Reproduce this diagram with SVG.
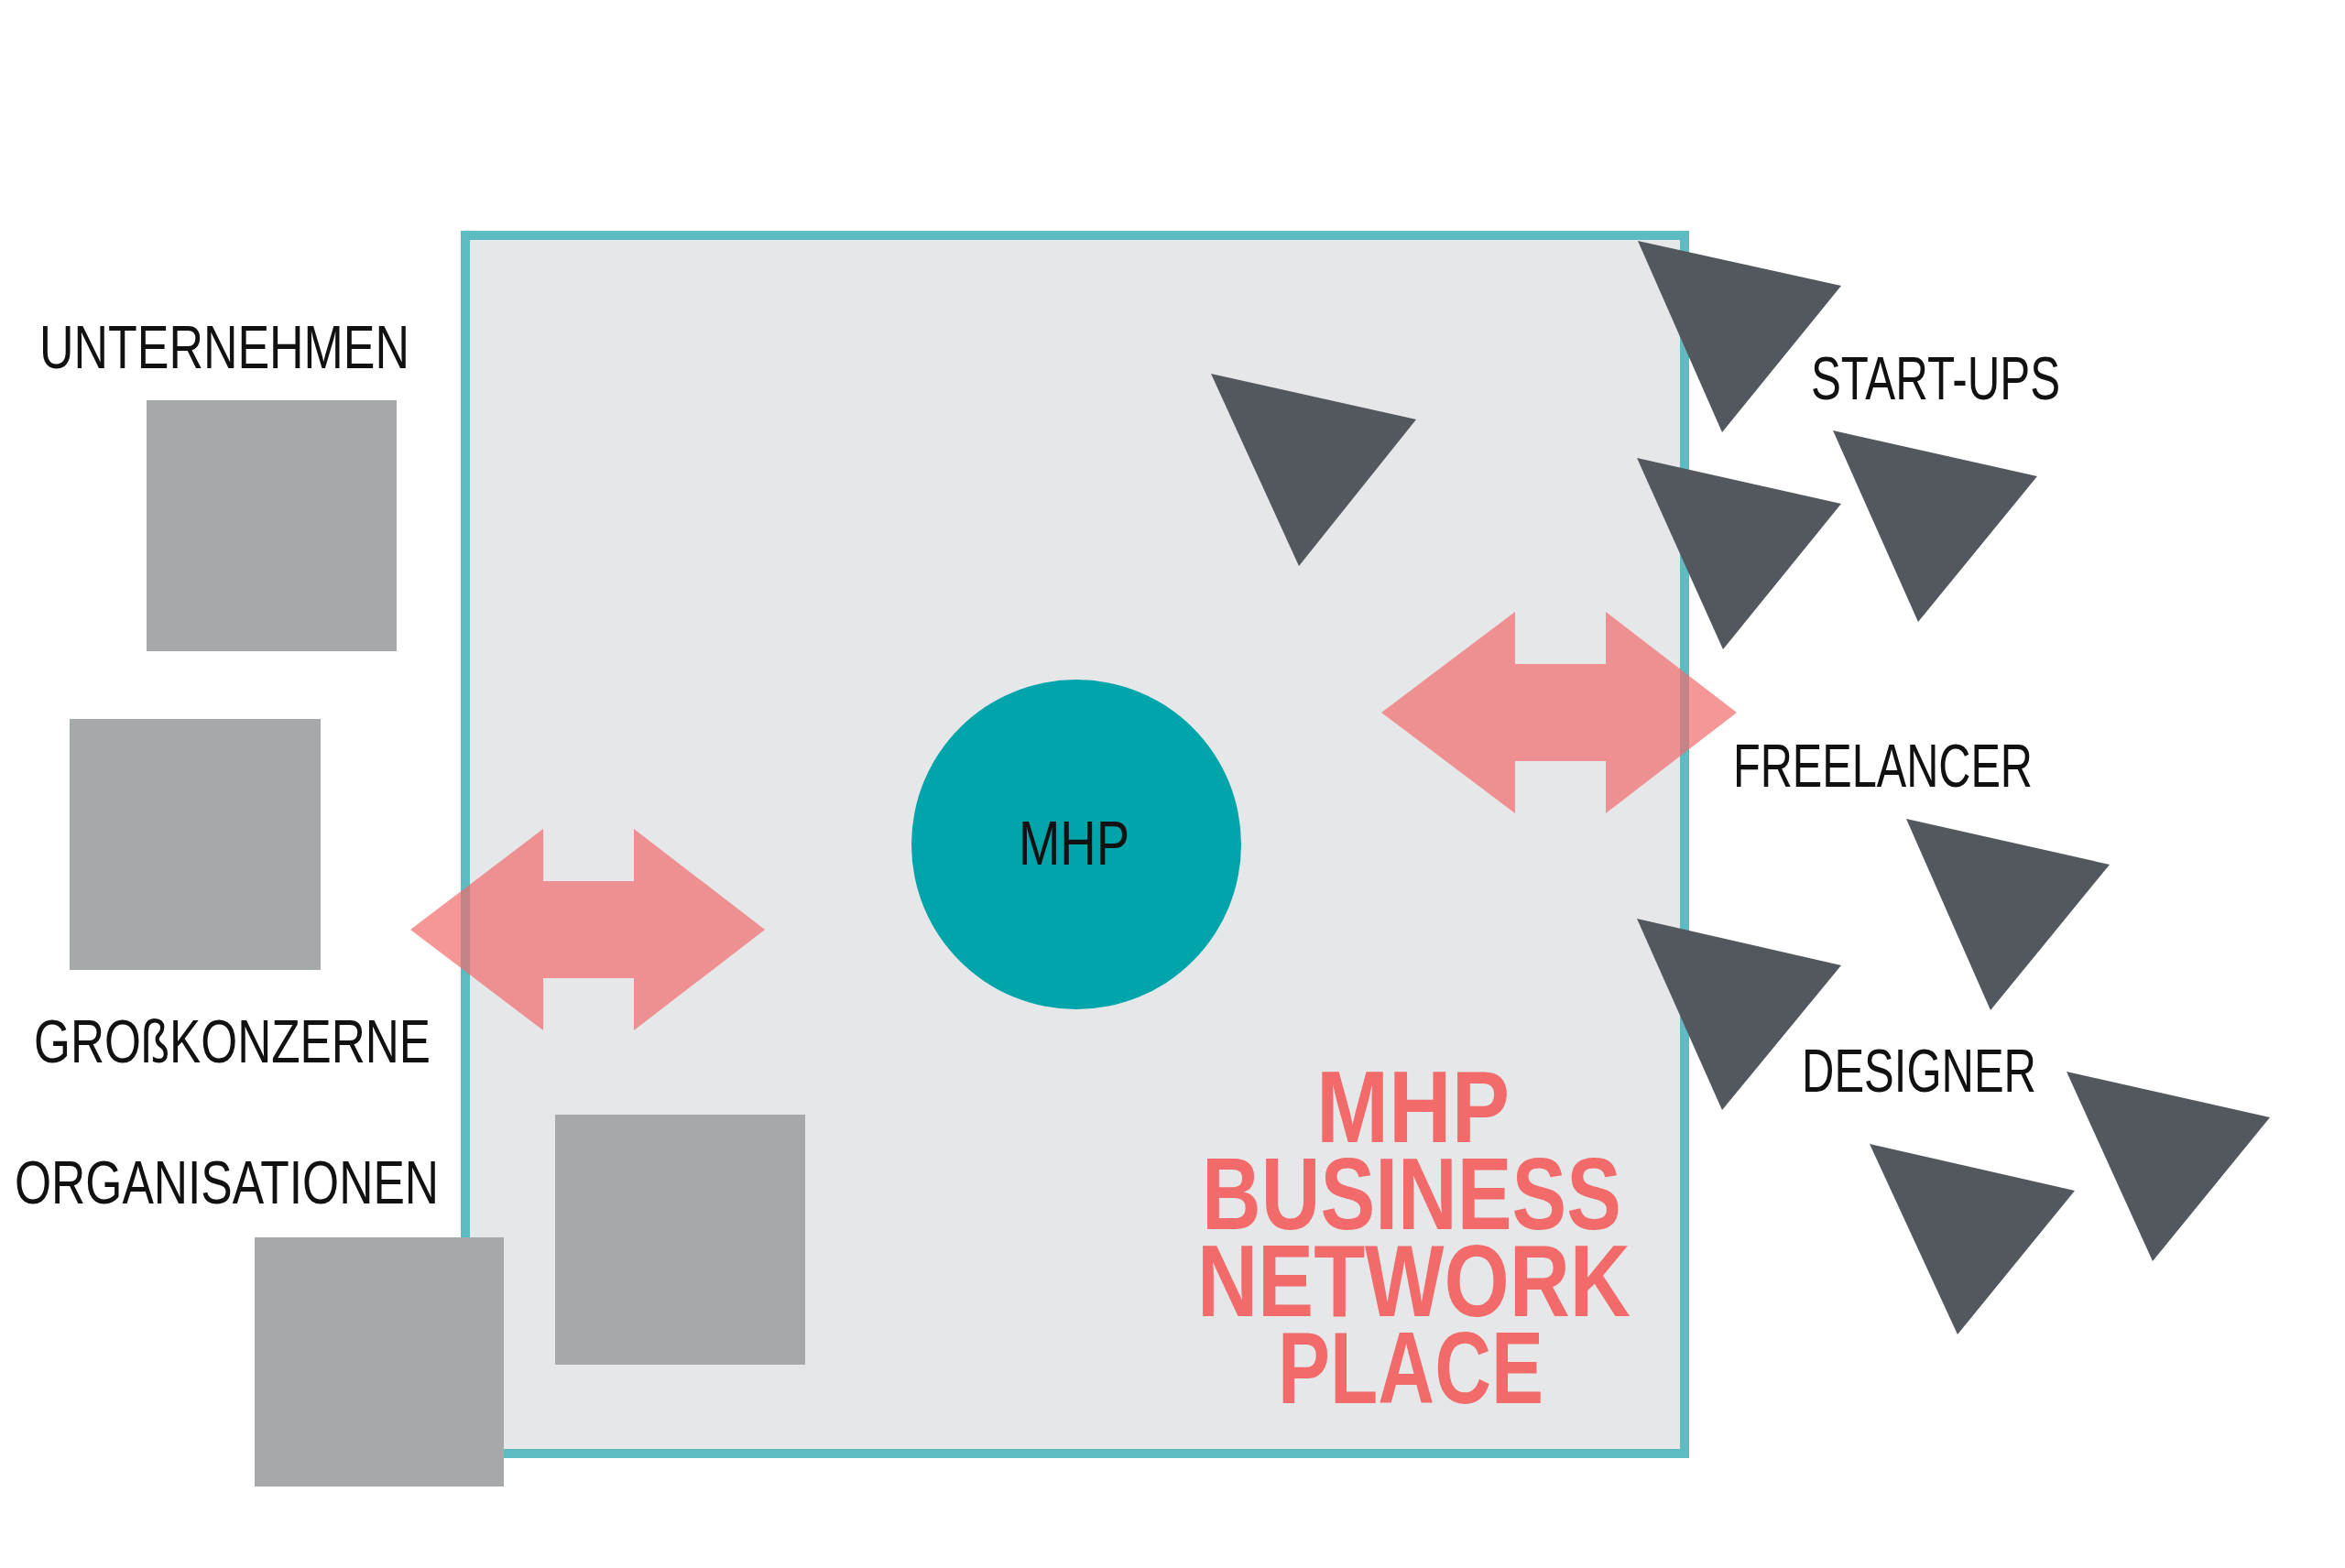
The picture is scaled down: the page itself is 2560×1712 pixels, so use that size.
<svg xmlns="http://www.w3.org/2000/svg" width="2560" height="1712" viewBox="0 0 2560 1712">
  <style>
    .sq { fill: #a6a9a9; }
    .tri { fill: #53575e; }
    .lbl { font-family: "Liberation Sans Narrow", "Liberation Sans", "DejaVu Sans Condensed", sans-serif; font-size: 66px; fill: #111111; }
    .title { font-family: "Liberation Sans", "DejaVu Sans", sans-serif; font-weight: bold; font-size: 111px; fill: #f26a6a; }
    .arrow { fill: #f16b6b; fill-opacity: 0.7; }
  </style>
  <rect x="0" y="0" width="2560" height="1712" fill="#ffffff"/>

  <g id="frame">
    <rect x="508" y="257" width="1331" height="1330" fill="#e6e7e9" stroke="#5cbcc1" stroke-width="10"/>
  </g>

  <g id="mhp">
    <circle cx="1175" cy="922" r="180" fill="#00a4ab"/>
    <text class="lbl" x="1112" y="944" textLength="121" lengthAdjust="spacingAndGlyphs" style="font-size:68px">MHP</text>
  </g>

  <g id="title">
    <text class="title" x="1437" y="1247" textLength="211" lengthAdjust="spacingAndGlyphs">MHP</text>
    <text class="title" x="1312" y="1342" textLength="458" lengthAdjust="spacingAndGlyphs">BUSINESS</text>
    <text class="title" x="1307" y="1437" textLength="473" lengthAdjust="spacingAndGlyphs">NETWORK</text>
    <text class="title" x="1395" y="1532" textLength="290" lengthAdjust="spacingAndGlyphs">PLACE</text>
  </g>

  <g id="unternehmen">
    <text class="lbl" x="43" y="402" textLength="404" lengthAdjust="spacingAndGlyphs">UNTERNEHMEN</text>
    <rect class="sq" x="160" y="437" width="273" height="274"/>
  </g>

  <g id="grosskonzerne">
    <rect class="sq" x="76" y="785" width="274" height="274"/>
    <text class="lbl" x="37" y="1160" textLength="433" lengthAdjust="spacingAndGlyphs">GROßKONZERNE</text>
  </g>

  <g id="organisationen">
    <text class="lbl" x="16" y="1314" textLength="463" lengthAdjust="spacingAndGlyphs">ORGANISATIONEN</text>
    <rect class="sq" x="278" y="1351" width="272" height="272"/>
  </g>

  <g id="square-inside">
    <rect class="sq" x="606" y="1217" width="273" height="273"/>
  </g>

  <g id="triangle-inside">
    <polygon class="tri" points="1322,408 1546,458 1418,618"/>
  </g>

  <g id="startups">
    <polygon class="tri" points="1788,263 2010,312 1880,472"/>
    <polygon class="tri" points="1787,500 2010,550 1881,709"/>
    <polygon class="tri" points="2001,470 2224,520 2094,679"/>
    <text class="lbl" x="1977" y="436" textLength="272" lengthAdjust="spacingAndGlyphs">START-UPS</text>
  </g>

  <g id="freelancer">
    <text class="lbl" x="1892" y="859" textLength="327" lengthAdjust="spacingAndGlyphs">FREELANCER</text>
    <polygon class="tri" points="2081,894 2303,944 2173,1103"/>
  </g>

  <g id="designer">
    <polygon class="tri" points="1787,1003 2010,1054 1880,1212"/>
    <text class="lbl" x="1967" y="1192" textLength="256" lengthAdjust="spacingAndGlyphs">DESIGNER</text>
    <polygon class="tri" points="2256,1170 2478,1220 2350,1377"/>
    <polygon class="tri" points="2041,1249 2265,1300 2137,1457"/>
  </g>

  <g id="connectors">
    <polygon class="arrow" points="448,1015 593,905 593,962 692,962 692,905 835,1015 692,1125 692,1068 593,1068 593,1125"/>
    <polygon class="arrow" points="1508,778 1654,668 1654,725 1753,725 1753,668 1896,778 1753,888 1753,831 1654,831 1654,888"/>
  </g>
</svg>
